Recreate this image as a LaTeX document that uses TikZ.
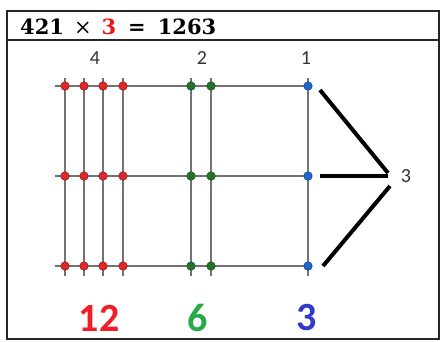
\documentclass[tikz,border=0pt]{standalone}
\usepackage{fontspec}
\setmainfont{Carlito}
\newfontfamily\hdrfont{DejaVu Serif}
\definecolor{dotred}{RGB}{220,40,40}
\definecolor{dotgreen}{RGB}{35,115,45}
\definecolor{dotblue}{RGB}{30,100,210}
\definecolor{gridgray}{RGB}{115,115,115}
\definecolor{numred}{RGB}{240,30,40}
\definecolor{numgreen}{RGB}{40,170,70}
\definecolor{numblue}{RGB}{50,60,200}
\definecolor{hdrred}{RGB}{240,20,20}
\begin{document}
\begin{tikzpicture}[x=1pt,y=-1pt,
  gline/.style={draw=gridgray,line width=2.2pt},
  dotstyle/.style={circle,inner sep=0pt,minimum size=8.5pt,draw=#1!70!black,fill=#1,line width=0.6pt},
  collabel/.style={font=\fontsize{20}{20}\selectfont,text=black!80},
  bignum/.style={font=\fontsize{40}{40}\selectfont\bfseries},
  blackline/.style={draw=black,line width=4pt}]
\useasboundingbox (0,0) rectangle (441,341);
% frame
\draw[line width=1.2pt,draw=black!85] (7,11) rectangle (439,339);
\draw[line width=1.2pt,draw=black!85] (7,40) -- (439,40);
\node[anchor=west,inner sep=0pt,font=\hdrfont\fontsize{21}{21}\selectfont\bfseries] (hdr) at (20,27)
  {421\hspace{10pt}{\mdseries×}\hspace{10pt}{\color{hdrred}3}\hspace{12pt}=\hspace{12pt}1263};
% column labels
\node[collabel] (l4) at (95,58) {4};
\node[collabel] (l2) at (202,58) {2};
\node[collabel] (l1) at (306,58) {1};
% grid lines
\foreach \r/\y in {a/86,b/176,c/266}{
  \coordinate (hs\r) at (55,\y);
  \coordinate (he\r) at (312,\y);
  \draw[gline] (hs\r) -- (he\r);
}
\foreach \c/\x in {1/65,2/84,3/103,4/123,5/191,6/211,7/308}{
  \coordinate (vs\c) at (\x,78);
  \coordinate (ve\c) at (\x,276);
  \draw[gline] (vs\c) -- (ve\c);
}
% dots
\foreach \r/\y in {a/86,b/176,c/266}{
  \foreach \c/\x in {1/65,2/84,3/103,4/123}{
    \node[dotstyle=dotred] (d\c\r) at (\x,\y) {};
  }
  \foreach \c/\x in {5/191,6/211}{
    \node[dotstyle=dotgreen] (d\c\r) at (\x,\y) {};
  }
  \node[dotstyle=dotblue] (d7\r) at (308,\y) {};
}
% three label and connectors
\node[collabel] (three) at (406,176) {3};
\coordinate (ta) at (320,90);
\coordinate (tb) at (320,176);
\coordinate (tc) at (323,266);
\coordinate (pa) at (388,173);
\coordinate (pb) at (388,176);
\coordinate (pc) at (390,186);
\draw[blackline] (ta) -- (pa);
\draw[blackline] (tb) -- (pb);
\draw[blackline] (tc) -- (pc);
% bottom numbers
\node[bignum,text=numred] (n12) at (99,318) {12};
\node[bignum,text=numgreen] (n6) at (198,318) {6};
\node[bignum,text=numblue] (n3) at (307,318) {3};
\end{tikzpicture}
\end{document}
